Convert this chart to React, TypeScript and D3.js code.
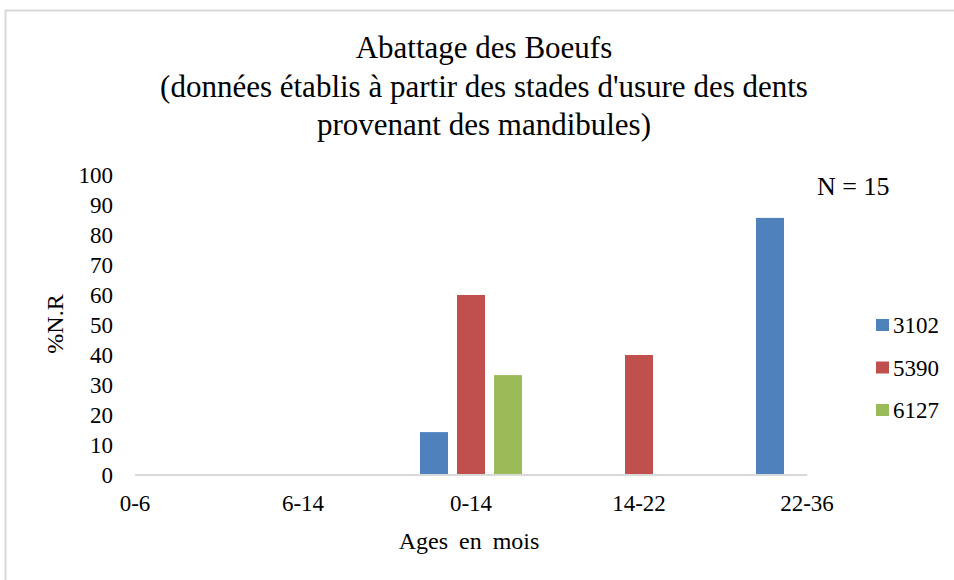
import { useEffect, useRef } from 'react'
import * as d3 from 'd3'

const categories = ['0-6', '6-14', '0-14', '14-22', '22-36']
const seriesNames = ['3102', '5390', '6127']
const values3102 = [0, 0, 14.3, 0, 85.7]
const values5390 = [0, 0, 60, 40, 0]
const values6127 = [0, 0, 33.3, 0, 0]
const colors = ['#4f81bd', '#c0504d', '#9bbb59']
const yTicks = [0, 10, 20, 30, 40, 50, 60, 70, 80, 90, 100]
const titleLines = [
  'Abattage des Boeufs',
  "(données établis à partir des stades d'usure des dents",
  'provenant des mandibules)',
]

const W = 954
const H = 580
const FONT = 'Liberation Serif, Times New Roman, serif'

export default function App() {
  const ref = useRef<SVGSVGElement | null>(null)

  useEffect(() => {
    const svg = d3.select(ref.current)
    svg.selectAll('*').remove()

    const series = [values3102, values5390, values6127]

    // Excel "on tick marks" category axis: first and last groups sit on the edges
    const x = d3.scalePoint().domain(categories).range([135, 807])
    const y = d3.scaleLinear().domain([0, 100]).range([475, 175])
    const offset = d3.scaleLinear().domain([0, 2]).range([-37, 37])
    const barW = 28

    svg
      .append('rect')
      .attr('x', 5.5)
      .attr('y', 10.5)
      .attr('width', 1000)
      .attr('height', 1000)
      .attr('fill', '#fff')
      .attr('stroke', '#d9d9d9')
      .attr('stroke-width', 2)

    const title = svg
      .append('text')
      .attr('text-anchor', 'middle')
      .style('font-family', FONT)
      .style('font-size', '31px')
      .attr('fill', '#000')
    titleLines.forEach((line, i) => {
      title
        .append('tspan')
        .attr('x', 484)
        .attr('y', 58 + i * 38.5)
        .text(line)
    })

    // y tick labels
    svg
      .append('g')
      .selectAll('text')
      .data(yTicks)
      .join('text')
      .attr('x', 113)
      .attr('y', (d) => y(d))
      .attr('dy', '0.35em')
      .attr('text-anchor', 'end')
      .style('font-family', FONT)
      .style('font-size', '23px')
      .text((d) => d)

    svg
      .append('text')
      .attr('transform', `translate(63, 324) rotate(-90)`)
      .attr('text-anchor', 'middle')
      .style('font-family', FONT)
      .style('font-size', '24px')
      .text('%N.R')

    // bars
    series.forEach((vals, si) => {
      svg
        .append('g')
        .selectAll('rect')
        .data(vals.map((v, i) => ({ v, c: categories[i] })).filter((d) => d.v > 0))
        .join('rect')
        .attr('x', (d) => (x(d.c) as number) + offset(si) - barW / 2)
        .attr('y', (d) => y(d.v))
        .attr('width', barW)
        .attr('height', (d) => y(0) - y(d.v))
        .attr('fill', colors[si])
    })

    // baseline
    svg
      .append('line')
      .attr('x1', x(categories[0]) as number)
      .attr('x2', x(categories[categories.length - 1]) as number)
      .attr('y1', y(0))
      .attr('y2', y(0))
      .attr('stroke', '#d9d9d9')
      .attr('stroke-width', 2)

    svg
      .append('g')
      .selectAll('text')
      .data(categories)
      .join('text')
      .attr('x', (d) => x(d) as number)
      .attr('y', 511)
      .attr('text-anchor', 'middle')
      .style('font-family', FONT)
      .style('font-size', '23px')
      .text((d) => d)

    svg
      .append('text')
      .attr('x', 469)
      .attr('y', 549)
      .attr('text-anchor', 'middle')
      .style('font-family', FONT)
      .style('font-size', '24px')
      .attr('word-spacing', 5)
      .text('Ages en mois')

    svg
      .append('text')
      .attr('x', 817)
      .attr('y', 195)
      .style('font-family', FONT)
      .style('font-size', '26px')
      .text('N = 15')

    // legend
    const legend = svg
      .append('g')
      .selectAll('g')
      .data(seriesNames)
      .join('g')
      .attr('transform', (_, i) => `translate(876, ${325 + i * 42.5})`)
    legend
      .append('rect')
      .attr('x', 0)
      .attr('y', -6)
      .attr('width', 13)
      .attr('height', 12)
      .attr('fill', (_, i) => colors[i])
    legend
      .append('text')
      .attr('x', 17)
      .attr('dy', '0.35em')
      .style('font-family', FONT)
      .style('font-size', '23px')
      .text((d) => d)
  }, [])

  return (
    <svg
      ref={ref}
      width={W}
      height={H}
      style={{ position: 'absolute', left: 0, top: 0, display: 'block', background: '#fff' }}
    />
  )
}
